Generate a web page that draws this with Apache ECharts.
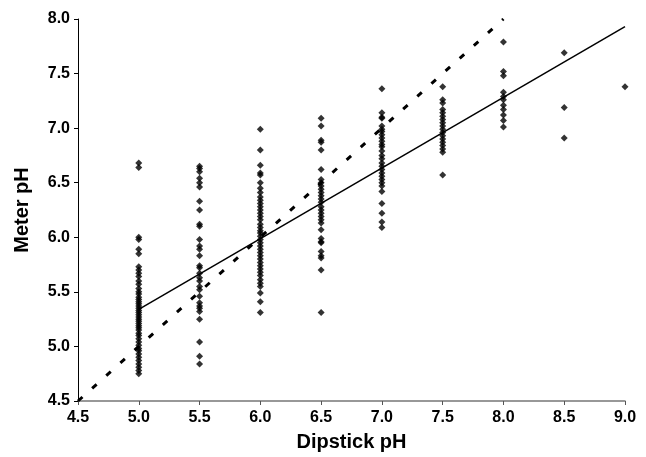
<!DOCTYPE html>
<html><head><meta charset="utf-8">
<script src="https://cdn.jsdelivr.net/npm/echarts@6/dist/echarts.min.js"></script>
<style>html,body{margin:0;padding:0;background:#fff}#c{width:646px;height:457px}</style>
</head><body><div id="c"></div>
<script>
// Dipstick pH categories (x) and meter pH readings (y) per category
const dipstick = [5.0, 5.5, 6.0, 6.5, 7.0, 7.5, 8.0, 8.5, 9.0];
const meter_5_0 = [6.68, 6.64, 6.0, 5.98, 5.89, 5.85, 5.73, 5.70, 5.67, 5.64, 5.60, 5.57, 5.53, 5.50, 5.48, 5.45, 5.43, 5.41, 5.39, 5.37, 5.35, 5.33, 5.31, 5.29, 5.27, 5.25, 5.23, 5.21, 5.19, 5.17, 5.15, 5.12, 5.10, 5.07, 5.04, 5.01, 4.98, 4.96, 4.93, 4.90, 4.87, 4.84, 4.81, 4.78, 4.75];
const meter_5_5 = [6.65, 6.63, 6.60, 6.54, 6.50, 6.46, 6.33, 6.25, 6.12, 6.10, 5.98, 5.92, 5.89, 5.83, 5.74, 5.72, 5.67, 5.63, 5.60, 5.55, 5.52, 5.46, 5.40, 5.37, 5.35, 5.32, 5.25, 5.04, 4.91, 4.84];
const meter_6_0 = [6.99, 6.80, 6.66, 6.59, 6.57, 6.50, 6.45, 6.41, 6.37, 6.34, 6.31, 6.28, 6.25, 6.22, 6.19, 6.16, 6.12, 6.09, 6.06, 6.04, 6.01, 5.98, 5.95, 5.92, 5.89, 5.86, 5.83, 5.80, 5.77, 5.74, 5.71, 5.68, 5.65, 5.61, 5.58, 5.55, 5.49, 5.41, 5.31];
const meter_6_5 = [7.09, 7.02, 6.89, 6.87, 6.80, 6.62, 6.53, 6.50, 6.47, 6.44, 6.41, 6.38, 6.35, 6.32, 6.28, 6.25, 6.22, 6.19, 6.16, 6.13, 6.07, 5.99, 5.96, 5.95, 5.87, 5.83, 5.81, 5.70, 5.31];
const meter_7_0 = [7.36, 7.14, 7.10, 7.09, 7.02, 6.99, 6.97, 6.94, 6.91, 6.88, 6.85, 6.83, 6.79, 6.75, 6.72, 6.68, 6.65, 6.62, 6.59, 6.56, 6.53, 6.50, 6.47, 6.42, 6.31, 6.22, 6.14, 6.09];
const meter_7_5 = [7.38, 7.26, 7.23, 7.17, 7.14, 7.11, 7.08, 7.05, 7.02, 6.99, 6.96, 6.93, 6.90, 6.87, 6.84, 6.81, 6.78, 6.57];
const meter_8_0 = [7.79, 7.52, 7.48, 7.33, 7.29, 7.26, 7.21, 7.17, 7.12, 7.07, 7.01];
const meter_8_5 = [7.69, 7.19, 6.91];
const meter_9_0 = [7.38];
const meterByDipstick = [meter_5_0, meter_5_5, meter_6_0, meter_6_5, meter_7_0, meter_7_5, meter_8_0, meter_8_5, meter_9_0];
// fitted regression line endpoints and identity line endpoints
const fitLine = [[5.0, 5.34], [9.0, 7.93]];
const identityLine = [[4.5, 4.5], [8.0, 8.0]];
const xTicks = [4.5, 5.0, 5.5, 6.0, 6.5, 7.0, 7.5, 8.0, 8.5, 9.0];
const yTicks = [4.5, 5.0, 5.5, 6.0, 6.5, 7.0, 7.5, 8.0];

const points = [];
dipstick.forEach((x, i) => meterByDipstick[i].forEach(y => points.push([x, y])));

const font = '"Liberation Sans", Arial, sans-serif';
const chart = echarts.init(document.getElementById('c'));
chart.setOption({
  animation: false,
  backgroundColor: '#fff',
  grid: { left: 78, right: 21, top: 19, bottom: 55, containLabel: false },
  xAxis: {
    type: 'value', min: 4.5, max: 9.0, interval: 0.5,
    name: 'Dipstick pH', nameLocation: 'middle', nameGap: 31,
    nameTextStyle: { fontFamily: font, fontWeight: 'bold', fontSize: 20, color: '#000' },
    axisLine: { show: true, lineStyle: { color: '#777', width: 1.5 } },
    axisTick: { show: true, length: 4, lineStyle: { color: '#555' } },
    axisLabel: { margin: 9, fontFamily: font, fontWeight: 'bold', fontSize: 16, color: '#000',
      formatter: v => v.toFixed(1) },
    splitLine: { show: false }
  },
  yAxis: {
    type: 'value', min: 4.5, max: 8.0, interval: 0.5,
    name: 'Meter pH', nameLocation: 'middle', nameGap: 46,
    nameTextStyle: { fontFamily: font, fontWeight: 'bold', fontSize: 20, color: '#000' },
    axisLine: { show: true, lineStyle: { color: '#000', width: 1 } },
    axisTick: { show: true, length: 4, lineStyle: { color: '#000' } },
    axisLabel: { margin: 8, fontFamily: font, fontWeight: 'bold', fontSize: 16, color: '#000',
      formatter: v => v.toFixed(1) },
    splitLine: { show: false }
  },
  series: [
    { type: 'line', data: identityLine, symbol: 'none', silent: true,
      lineStyle: { color: '#000', width: 3, type: [6, 13] } },
    { type: 'line', data: fitLine, symbol: 'none', silent: true,
      lineStyle: { color: '#000', width: 1.5 } },
    { type: 'scatter', data: points, symbol: 'diamond', symbolSize: 7,
      itemStyle: { color: '#000' } }
  ]
});
</script></body></html>
